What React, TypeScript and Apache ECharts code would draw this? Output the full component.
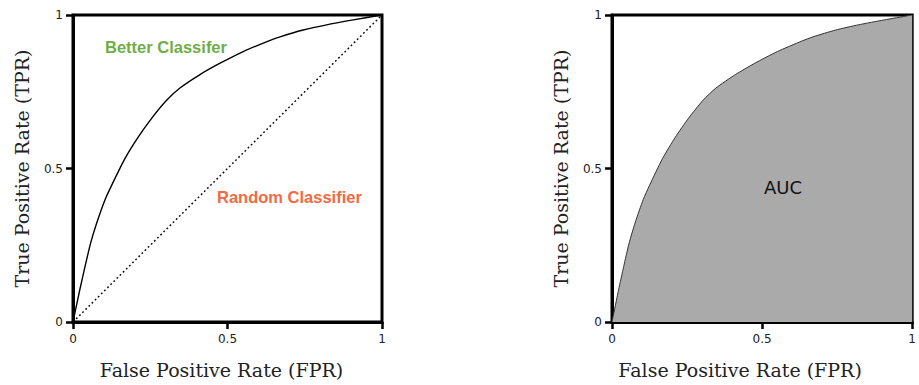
import React, { useEffect, useRef } from "react";
import * as echarts from "echarts";

// ROC curve (FPR -> TPR)
const fpr = [0, 0.022, 0.039, 0.057, 0.077, 0.104, 0.125, 0.168, 0.211, 0.255, 0.303, 0.346, 0.411, 0.476, 0.551, 0.632, 0.67, 0.745, 0.821, 0.907, 0.988, 1];
const tpr = [0, 0.105, 0.181, 0.257, 0.323, 0.399, 0.445, 0.532, 0.602, 0.664, 0.722, 0.762, 0.806, 0.843, 0.881, 0.915, 0.929, 0.951, 0.968, 0.984, 0.998, 1];
const randomLine = [[0, 0], [1, 1]];
const xName = "False Positive Rate (FPR)";
const yName = "True Positive Rate (TPR)";
const betterLabel = "Better Classifer";
const randomLabel = "Random Classifier";
const aucLabel = "AUC";

export default function App() {
  const ref = useRef<HTMLDivElement>(null);
  useEffect(() => {
    if (!ref.current) return;
    const chart = echarts.init(ref.current, null, { renderer: "svg" });
    const curve = fpr.map((x, i) => [x, tpr[i]]);
    const axisCommonX = (gi: number, shift: number) => ({
      type: "value",
      gridIndex: gi,
      min: 0,
      max: 1,
      interval: 0.5,
      name: xName,
      nameLocation: "middle",
      nameGap: 38,
      nameTextStyle: { fontFamily: "DejaVu Serif", fontSize: 19, color: "#222", padding: [0, shift * 2, 0, 0] },
      axisLine: { show: true, lineStyle: { color: "#000", width: 3 } },
      axisTick: { show: true, length: 7, lineStyle: { color: "#000", width: 2.5 } },
      axisLabel: { margin: 11, fontFamily: "DejaVu Sans", fontSize: 12, color: "#222" },
      splitLine: { show: false },
    });
    const axisCommonY = (gi: number) => ({
      type: "value",
      gridIndex: gi,
      min: 0,
      max: 1,
      interval: 0.5,
      name: yName,
      nameLocation: "middle",
      nameGap: 42,
      nameTextStyle: { fontFamily: "DejaVu Serif", fontSize: 19, color: "#222" },
      axisLine: { show: true, lineStyle: { color: "#000", width: 3 } },
      axisTick: { show: true, length: 7, lineStyle: { color: "#000", width: 2.5 } },
      axisLabel: { margin: 10, fontFamily: "DejaVu Sans", fontSize: 12, color: "#222" },
      splitLine: { show: false },
    });
    chart.setOption({
      animation: false,
      backgroundColor: "#fff",
      grid: [
        { left: 73, top: 15, width: 309, height: 307, show: true, borderColor: "#000", borderWidth: 3, backgroundColor: "transparent" },
        { left: 612, top: 15, width: 309, height: 307, show: true, borderColor: "#000", borderWidth: 3, backgroundColor: "transparent" },
      ],
      xAxis: [axisCommonX(0, 6), axisCommonX(1, 22)],
      yAxis: [axisCommonY(0), axisCommonY(1)],
      series: [
        {
          type: "line",
          xAxisIndex: 0,
          yAxisIndex: 0,
          data: randomLine,
          showSymbol: false,
          lineStyle: { color: "#111", width: 1.5, type: [1.8, 2.6] },
          z: 3,
        },
        {
          type: "line",
          xAxisIndex: 0,
          yAxisIndex: 0,
          data: curve,
          smooth: 0.2,
          showSymbol: false,
          lineStyle: { color: "#000", width: 1.4 },
          z: 3,
        },
        {
          type: "line",
          xAxisIndex: 1,
          yAxisIndex: 1,
          data: curve,
          smooth: 0.2,
          showSymbol: false,
          lineStyle: { color: "#333", width: 1 },
          areaStyle: { color: "#aaaaaa", opacity: 1 },
          z: 1,
        },
      ],
      graphic: [
        {
          type: "text",
          left: 105,
          top: 38,
          z: 100,
          style: { text: betterLabel, fill: "#70ad47", font: "bold 16.5px 'Liberation Sans', Arial, sans-serif" },
        },
        {
          type: "text",
          left: 217,
          top: 188,
          z: 100,
          style: { text: randomLabel, fill: "#f26a43", font: "bold 16.5px 'Liberation Sans', Arial, sans-serif" },
        },
        {
          type: "text",
          left: 764,
          top: 178,
          z: 100,
          style: { text: aucLabel, fill: "#111", font: "18px 'DejaVu Sans', sans-serif" },
        },
      ],
    });
    return () => chart.dispose();
  }, []);
  return (
    <div
      ref={ref}
      style={{ position: "fixed", left: 0, top: 0, width: 919, height: 385, background: "#fff" }}
    />
  );
}
